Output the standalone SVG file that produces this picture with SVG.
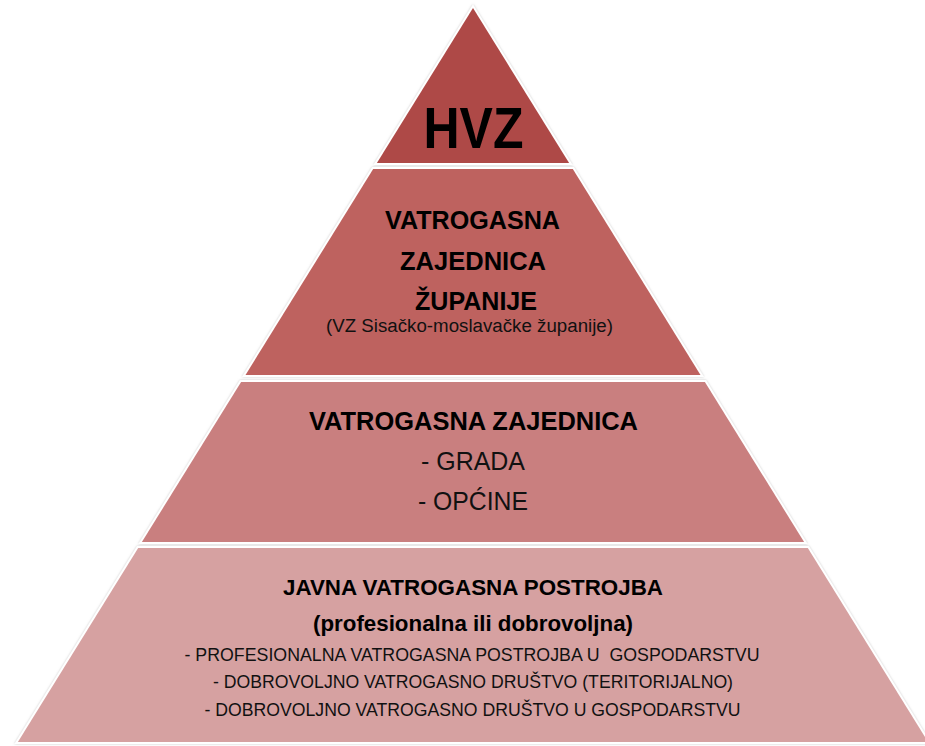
<svg xmlns="http://www.w3.org/2000/svg" width="925" height="746" viewBox="0 0 925 746">
<defs>
<filter id="sh" x="-5%" y="-5%" width="110%" height="110%">
<feDropShadow dx="0" dy="0" stdDeviation="1.2" flood-color="#9a9a9a" flood-opacity="0.55"/>
</filter>
<style>
.band{stroke:#ffffff;stroke-width:4;paint-order:stroke;stroke-linejoin:miter;filter:url(#sh)}
.b{font-family:"Liberation Sans",Arial,sans-serif;font-weight:bold;fill:#000;text-anchor:middle}
.r{font-family:"Liberation Sans",Arial,sans-serif;font-weight:normal;fill:#111;text-anchor:middle}
</style>
</defs>
<rect x="0" y="0" width="925" height="746" fill="#ffffff"/>
<g id="level4">
<polygon class="band" fill="#D6A1A1" points="138.2,548 807.8,548 928.1,742 17.9,742"/>
<text class="b" x="473" y="595" font-size="22" textLength="380" lengthAdjust="spacingAndGlyphs">JAVNA VATROGASNA POSTROJBA</text>
<text class="b" x="473" y="631" font-size="22" textLength="320" lengthAdjust="spacingAndGlyphs">(profesionalna ili dobrovoljna)</text>
<text class="r" x="472" y="661" font-size="17.5" textLength="575" lengthAdjust="spacingAndGlyphs" xml:space="preserve">- PROFESIONALNA VATROGASNA POSTROJBA U  GOSPODARSTVU</text>
<text class="r" x="473" y="688" font-size="17.5" textLength="520" lengthAdjust="spacingAndGlyphs">- DOBROVOLJNO VATROGASNO DRUŠTVO (TERITORIJALNO)</text>
<text class="r" x="472.5" y="716" font-size="17.5" textLength="536" lengthAdjust="spacingAndGlyphs">- DOBROVOLJNO VATROGASNO DRUŠTVO U GOSPODARSTVU</text>
</g>
<g id="level3">
<polygon class="band" fill="#C97F7F" points="241.1,382 704.9,382 804.1,542 141.9,542"/>
<text class="b" x="473.5" y="430" font-size="25" textLength="329" lengthAdjust="spacingAndGlyphs">VATROGASNA ZAJEDNICA</text>
<text class="r" x="473" y="470" font-size="25" textLength="104" lengthAdjust="spacingAndGlyphs">- GRADA</text>
<text class="r" x="473" y="510" font-size="25" textLength="110" lengthAdjust="spacingAndGlyphs">- OPĆINE</text>
</g>
<g id="level2">
<polygon class="band" fill="#BE625F" points="373.2,169 572.8,169 700.5,375 245.5,375"/>
<text class="b" x="472.5" y="229" font-size="25.5" textLength="175" lengthAdjust="spacingAndGlyphs">VATROGASNA</text>
<text class="b" x="473" y="270" font-size="25.5" textLength="146" lengthAdjust="spacingAndGlyphs">ZAJEDNICA</text>
<text class="b" x="476" y="310" font-size="25.5" textLength="122" lengthAdjust="spacingAndGlyphs">ŽUPANIJE</text>
<text class="r" x="469.5" y="332" font-size="18" textLength="287" lengthAdjust="spacingAndGlyphs">(VZ Sisačko-moslavačke županije)</text>
</g>
<g id="level1">
<polygon class="band" fill="#AE4A47" points="473,8 569.1,163 376.9,163"/>
<text class="b" x="473.5" y="148" font-size="57" textLength="100" lengthAdjust="spacingAndGlyphs">HVZ</text>
</g>
<g id="connectors"></g>
</svg>
